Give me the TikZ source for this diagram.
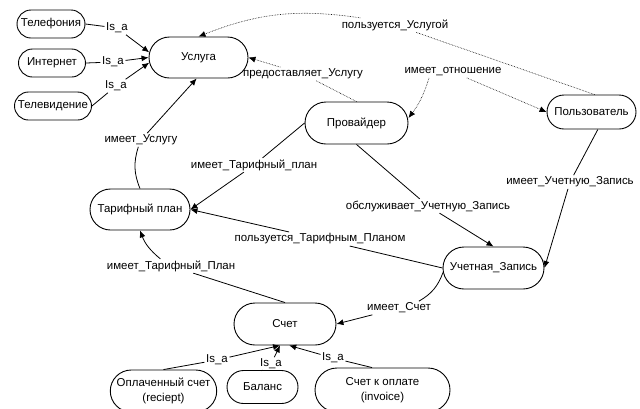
\documentclass[tikz,border=0pt]{standalone}
\usepackage{fontspec}
\setmainfont{Liberation Sans}
\usetikzlibrary{shapes.misc, arrows.meta}

\tikzset{
  concept/.style={draw, rounded rectangle, line width=0.9bp, inner sep=2bp,
    font=\fontsize{11.5}{15}\selectfont, align=center},
  lbl/.style={inner sep=1.5bp, font=\fontsize{11.5}{13}\selectfont},
  link/.style={line width=0.8bp},
  rel/.style={link, -{Latex[length=7bp,width=6bp]}},
  dotlink/.style={densely dotted, line width=0.6bp},
  dep/.style={dotlink, -{Latex[length=7bp,width=6bp]}},
}

\begin{document}
\begin{tikzpicture}[x=1bp,y=-1bp]
\useasboundingbox (0,0) rectangle (640,408);
\node[concept, minimum width=72bp, minimum height=28bp] (tel) at (51,24) {Телефония};
\node[concept, minimum width=71bp, minimum height=28bp] (inet) at (52,63) {Интернет};
\node[concept, minimum width=81bp, minimum height=28bp] (tv) at (53,106) {Телевидение};
\node[concept, minimum width=103bp, minimum height=41bp] (usl) at (198.5,57.5) {Услуга};
\node[concept, minimum width=107bp, minimum height=42bp] (prov) at (356.5,123) {Провайдер};
\node[concept, minimum width=93bp, minimum height=34bp] (polz) at (591.5,112) {Пользователь};
\node[concept, minimum width=104bp, minimum height=41bp] (tarif) at (140,209.5) {Тарифный план};
\node[concept, minimum width=105bp, minimum height=42bp] (uchet) at (493.5,268) {Учетная\_Запись};
\node[concept, minimum width=106bp, minimum height=42bp] (schet) at (285,324) {Счет};
\node[concept, minimum width=103bp, minimum height=42bp] (oplach) at (163.5,391) {Оплаченный счет\\(reciept)};
\node[concept, minimum width=75bp, minimum height=33bp] (balans) at (262.5,387) {Баланс};
\node[concept, minimum width=139bp, minimum height=44bp] (kopl) at (382.5,390) {Счет к оплате\\(invoice)};

\node[lbl] (isaTel) at (117,28) {Is\_a};
\node[lbl] (isaInet) at (113,62) {Is\_a};
\node[lbl] (isaTv) at (116,86) {Is\_a};
\node[lbl] (imUsl) at (141,140) {имеет\_Услугу};
\node[lbl] (predUsl) at (303,74) {предоставляет\_Услугу};
\node[lbl] (polzUsl) at (395,25) {пользуется\_Услугой};
\node[lbl] (imOtn) at (453,72) {имеет\_отношение};
\node[lbl] (imTarif) at (254,165) {имеет\_Тарифный\_план};
\node[lbl] (polzTarif) at (320,239) {пользуется\_Тарифным\_Планом};
\node[lbl] (imTarifP) at (171,266) {имеет\_Тарифный\_План};
\node[lbl] (obslUch) at (428,206) {обслуживает\_Учетную\_Запись};
\node[lbl] (imUch) at (570,182) {имеет\_Учетную\_Запись};
\node[lbl] (imSchet) at (399,308) {имеет\_Счет};
\node[lbl] (isaOpl) at (217,360) {Is\_a};
\node[lbl] (isaBal) at (271,364) {Is\_a};
\node[lbl] (isaKopl) at (333,358) {Is\_a};

\draw[rel] (tel.east) -- (isaTel) -- (usl.174);
\draw[rel] (inet.east) -- (isaInet) -- (usl.west);
\draw[rel] (tv.east) -- (isaTv) -- (usl.186);
\draw[link] (tarif.north) to[bend left=20] (imUsl);
\draw[rel] (imUsl) -- (usl.265);
\draw[dep] (prov.north) -- (predUsl) -- (usl.east);
\draw[dotlink] (polz.80) -- (polzUsl);
\draw[dep] (polzUsl) to[bend right=15] (usl.north);
\draw[dep] (imOtn) -- (polz.west);
\draw[dep] ([xshift=-24bp]imOtn.south) to[bend left=10] ([yshift=5bp]prov.east);
\draw[rel] (prov.west) -- (imTarif) -- (tarif.east);
\draw[rel] (prov.south) -- (obslUch) -- (uchet.north);
\draw[rel] (polz.290) -- (imUch) -- (uchet.east);
\draw[rel] (uchet.west) -- (polzTarif) -- (tarif.east);
\draw[link] (schet.north) -- (imTarifP);
\draw[rel] (imTarifP) to[bend left=15] (tarif.south);
\draw[link] (uchet.185) to[bend left=20] (imSchet);
\draw[rel] (imSchet) -- (schet.east);
\draw[rel] (oplach.north) -- (isaOpl) -- (schet.257);
\draw[rel] (balans.north) -- (isaBal) -- (schet.257);
\draw[rel] (kopl.115) -- (isaKopl) -- (schet.281);
\end{tikzpicture}
\end{document}
